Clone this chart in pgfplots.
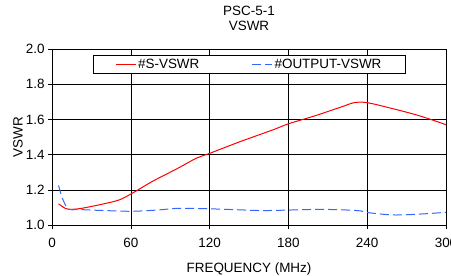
\documentclass[border=0pt]{standalone}
\usepackage{pgfplots}
\pgfplotsset{compat=1.18}
\usepackage{fontspec}
\setmainfont{Liberation Sans}
\definecolor{myblue}{RGB}{51,102,255}
\begin{document}
\begin{tikzpicture}[x=1bp,y=1bp]
\path[use as bounding box] (0,0) rectangle (451,275);
\begin{axis}[
  at={(52bp,50bp)}, anchor=south west,
  scale only axis, width=394bp, height=176bp,
  xmin=0, xmax=300, ymin=1.0, ymax=2.0,
  xtick={0,60,120,180,240,300},
  ytick={1.0,1.2,1.4,1.6,1.8,2.0},
  yticklabel style={/pgf/number format/.cd,fixed,fixed zerofill,precision=1},
  /pgf/number format/assume math mode=true,
  tick align=outside, tick pos=left,
  major tick length=4bp,
  grid=major, grid style={black, line width=0.6pt},
  axis line style={black, line width=0.6pt},
  tick style={black, line width=0.6pt},
  ticklabel style={font=\fontsize{13.5}{15}\selectfont},
  xticklabel style={yshift=-6bp},
  xlabel={FREQUENCY (MHz)}, ylabel={VSWR},
  label style={font=\fontsize{13.5}{15}\selectfont},
  xlabel style={at={(axis description cs:0.5,-0.25)}, anchor=center},
  ylabel style={at={(axis description cs:-0.0863,0.5)}, anchor=center},
  title={PSC-5-1\\VSWR},
  title style={at={(axis description cs:0.5,1.141)}, anchor=center, align=center, font=\fontsize{13.5}{15}\selectfont},
  legend style={at={(axis cs:31,1.966)}, anchor=north west,
    legend columns=2, font=\fontsize{13.5}{15}\selectfont, inner ysep=1.5bp, inner xsep=22bp,
    /tikz/every even column/.append style={column sep=50bp}},
  legend image code/.code={\draw[#1, line width=1.2pt] (0bp,0bp) -- (20bp,0bp);},
  legend cell align=left,
]
\addplot[red, line width=1pt, smooth] coordinates {
(5,1.12) (10,1.095) (14,1.089) (20,1.092) (25,1.098) (38,1.118) (51,1.142) (61,1.18) (76,1.246) (90,1.30) (98,1.331) (110,1.38) (120,1.407) (143,1.473) (168,1.54) (180,1.575) (200,1.62) (220,1.67) (230,1.695) (240,1.695) (260,1.66) (280,1.62) (300,1.57)
};
\addlegendentry{\#S-VSWR}
\addplot[myblue, line width=1pt, dash pattern=on 9bp off 4bp, smooth] coordinates {
(5,1.225) (8,1.15) (12.5,1.09) (20,1.088) (40,1.082) (61,1.078) (80,1.085) (97,1.095) (120,1.092) (140,1.087) (160,1.082) (181,1.085) (204,1.089) (225,1.085) (235,1.08) (241,1.07) (260,1.057) (280,1.062) (300,1.072)
};
\addlegendentry{\#OUTPUT-VSWR}
\end{axis}
\end{tikzpicture}
\end{document}
